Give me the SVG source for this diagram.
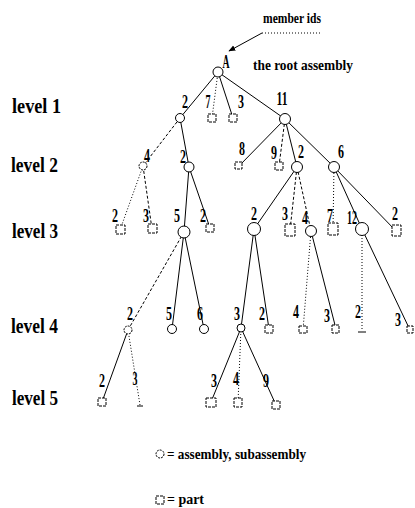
<svg xmlns="http://www.w3.org/2000/svg" width="415" height="508" viewBox="0 0 415 508">
<style>
.t{font-family:"Liberation Serif","DejaVu Serif",serif;font-weight:bold;fill:#000}
.n{font-size:18px;text-anchor:middle}
.lv{font-size:21px}
.s{font-size:15px}
.e{stroke:#000;stroke-width:1;fill:none}
.d{stroke-dasharray:3,2}
.dt{stroke-dasharray:1,2}
.c{fill:#fff;stroke:#000;stroke-width:1}
.b{fill:#fff;stroke:#000;stroke-width:1;stroke-dasharray:3,1}
</style>
<defs>
<marker id="ar" viewBox="0 0 10 10" refX="9" refY="5" markerWidth="7" markerHeight="7" orient="auto"><path d="M0,1 L10,5 L0,9 z" fill="#000"/></marker>
</defs>
<rect width="415" height="508" fill="#fff"/>

<g id="annotations">
<text class="t s" x="263" y="23" textLength="58" lengthAdjust="spacingAndGlyphs">member ids</text>
<line class="e dt" x1="262" y1="33" x2="320" y2="33"/>
<line class="e" x1="262" y1="33" x2="229" y2="51" marker-end="url(#ar)"/>
<text class="t s" x="253" y="70" textLength="100" lengthAdjust="spacingAndGlyphs">the root assembly</text>
<text class="t lv" x="12" y="113" textLength="49" lengthAdjust="spacingAndGlyphs">level 1</text>
<text class="t lv" x="11" y="172" textLength="47" lengthAdjust="spacingAndGlyphs">level 2</text>
<text class="t lv" x="12" y="238" textLength="46" lengthAdjust="spacingAndGlyphs">level 3</text>
<text class="t lv" x="11" y="333" textLength="47" lengthAdjust="spacingAndGlyphs">level 4</text>
<text class="t lv" x="12" y="405" textLength="46" lengthAdjust="spacingAndGlyphs">level 5</text>
</g>

<g id="connectors">
<line class="e" x1="218" y1="72" x2="180" y2="118"/>
<line class="e dt" x1="218" y1="72" x2="212" y2="118"/>
<line class="e" x1="218" y1="72" x2="233" y2="118"/>
<line class="e" x1="218" y1="72" x2="285" y2="119"/>
<line class="e d" x1="180" y1="118" x2="143" y2="166"/>
<line class="e" x1="180" y1="118" x2="189" y2="167"/>
<line class="e dt" x1="143" y1="166" x2="120" y2="230"/>
<line class="e d" x1="143" y1="166" x2="152" y2="229"/>
<line class="e" x1="189" y1="167" x2="184" y2="232"/>
<line class="e" x1="189" y1="167" x2="210" y2="228"/>
<line class="e" x1="285" y1="119" x2="239" y2="166"/>
<line class="e d" x1="285" y1="119" x2="279" y2="166"/>
<line class="e" x1="285" y1="119" x2="297" y2="167"/>
<line class="e" x1="285" y1="119" x2="334" y2="167"/>
<line class="e" x1="297" y1="167" x2="254" y2="229"/>
<line class="e d" x1="297" y1="167" x2="290" y2="230"/>
<line class="e d" x1="297" y1="167" x2="311" y2="231"/>
<line class="e dt" x1="334" y1="167" x2="333" y2="229"/>
<line class="e" x1="334" y1="167" x2="362" y2="229"/>
<line class="e" x1="334" y1="167" x2="396" y2="231"/>
<line class="e d" x1="184" y1="232" x2="128" y2="330"/>
<line class="e" x1="184" y1="232" x2="172" y2="329"/>
<line class="e" x1="184" y1="232" x2="204" y2="329"/>
<line class="e" x1="254" y1="229" x2="241" y2="328"/>
<line class="e" x1="254" y1="229" x2="269" y2="329"/>
<line class="e dt" x1="311" y1="231" x2="303" y2="330"/>
<line class="e" x1="311" y1="231" x2="336" y2="329"/>
<line class="e dt" x1="362" y1="229" x2="362" y2="330"/>
<line class="e" x1="362" y1="229" x2="410" y2="330"/>
<line class="e" x1="128" y1="330" x2="102" y2="402"/>
<line class="e dt" x1="128" y1="330" x2="140" y2="405"/>
<line class="e" x1="241" y1="328" x2="211" y2="402"/>
<line class="e dt" x1="241" y1="328" x2="238" y2="403"/>
<line class="e" x1="241" y1="328" x2="276" y2="405"/>
</g>

<g id="root"><circle class="c" cx="218" cy="72" r="5"/><text class="t n" x="226" y="68" textLength="7" lengthAdjust="spacingAndGlyphs">A</text></g>

<g id="l1-2"><circle class="c" cx="180" cy="118" r="4.5"/><text class="t n" x="185" y="108" textLength="6" lengthAdjust="spacingAndGlyphs">2</text></g>
<g id="l1-7"><rect class="b" x="208" y="114" width="8" height="8"/><text class="t n" x="208" y="108" textLength="5" lengthAdjust="spacingAndGlyphs">7</text></g>
<g id="l1-3"><rect class="b" x="229" y="114" width="8" height="8"/><text class="t n" x="241" y="108" textLength="6" lengthAdjust="spacingAndGlyphs">3</text></g>
<g id="l1-11"><circle class="c" cx="285" cy="119" r="5.5"/><text class="t n" x="282" y="105" textLength="11" lengthAdjust="spacingAndGlyphs">11</text></g>

<g id="l2-4"><circle class="c" cx="143" cy="166" r="4" stroke-dasharray="2,1"/><text class="t n" x="147" y="162" textLength="6" lengthAdjust="spacingAndGlyphs">4</text></g>
<g id="l2-2a"><circle class="c" cx="189" cy="167" r="5"/><text class="t n" x="183" y="163" textLength="6" lengthAdjust="spacingAndGlyphs">2</text></g>
<g id="l2-8"><rect class="b" x="235" y="162" width="7" height="7"/><text class="t n" x="242" y="155" textLength="6" lengthAdjust="spacingAndGlyphs">8</text></g>
<g id="l2-9"><rect class="b" x="275" y="162" width="8" height="8"/><text class="t n" x="274" y="159" textLength="6" lengthAdjust="spacingAndGlyphs">9</text></g>
<g id="l2-2b"><circle class="c" cx="297" cy="167" r="5.5"/><text class="t n" x="301" y="158" textLength="6" lengthAdjust="spacingAndGlyphs">2</text></g>
<g id="l2-6"><circle class="c" cx="334" cy="167" r="5.5"/><text class="t n" x="341" y="158" textLength="6" lengthAdjust="spacingAndGlyphs">6</text></g>

<g id="l3-2a"><rect class="b" x="116" y="225" width="9" height="9"/><text class="t n" x="115" y="222" textLength="6" lengthAdjust="spacingAndGlyphs">2</text></g>
<g id="l3-3a"><rect class="b" x="148" y="224" width="9" height="9"/><text class="t n" x="146" y="222" textLength="6" lengthAdjust="spacingAndGlyphs">3</text></g>
<g id="l3-5"><circle class="c" cx="184" cy="232" r="6"/><text class="t n" x="177" y="222" textLength="6" lengthAdjust="spacingAndGlyphs">5</text></g>
<g id="l3-2b"><rect class="b" x="206" y="224" width="8" height="8"/><text class="t n" x="203" y="222" textLength="6" lengthAdjust="spacingAndGlyphs">2</text></g>
<g id="l3-2c"><circle class="c" cx="254" cy="229" r="6.5"/><text class="t n" x="254" y="220" textLength="6" lengthAdjust="spacingAndGlyphs">2</text></g>
<g id="l3-3b"><rect class="b" x="285" y="224" width="10" height="12"/><text class="t n" x="285" y="220" textLength="6" lengthAdjust="spacingAndGlyphs">3</text></g>
<g id="l3-4"><circle class="c" cx="311" cy="231" r="5.5"/><text class="t n" x="305" y="224" textLength="6" lengthAdjust="spacingAndGlyphs">4</text></g>
<g id="l3-7"><rect class="b" x="328" y="223" width="10" height="12"/><text class="t n" x="330" y="222" textLength="6" lengthAdjust="spacingAndGlyphs">7</text></g>
<g id="l3-12"><circle class="c" cx="362" cy="229" r="6.5"/><text class="t n" x="352" y="224" textLength="10" lengthAdjust="spacingAndGlyphs">12</text></g>
<g id="l3-2d"><rect class="b" x="392" y="225" width="9" height="11"/><text class="t n" x="395" y="220" textLength="6" lengthAdjust="spacingAndGlyphs">2</text></g>

<g id="l4-2a"><circle class="c" cx="128" cy="330" r="4" stroke-dasharray="2,1"/><text class="t n" x="130" y="320" textLength="6" lengthAdjust="spacingAndGlyphs">2</text></g>
<g id="l4-5"><circle class="c" cx="172" cy="329" r="4.5"/><text class="t n" x="169" y="320" textLength="6" lengthAdjust="spacingAndGlyphs">5</text></g>
<g id="l4-6"><circle class="c" cx="204" cy="329" r="4.5"/><text class="t n" x="200" y="320" textLength="6" lengthAdjust="spacingAndGlyphs">6</text></g>
<g id="l4-3a"><circle class="c" cx="241" cy="328" r="4"/><text class="t n" x="237" y="320" textLength="6" lengthAdjust="spacingAndGlyphs">3</text></g>
<g id="l4-2b"><rect class="b" x="265" y="325" width="8" height="8"/><text class="t n" x="262" y="320" textLength="6" lengthAdjust="spacingAndGlyphs">2</text></g>
<g id="l4-4"><rect class="b" x="299" y="326" width="8" height="7"/><text class="t n" x="296" y="318" textLength="6" lengthAdjust="spacingAndGlyphs">4</text></g>
<g id="l4-3b"><rect class="b" x="332" y="325" width="7" height="8"/><text class="t n" x="327" y="322" textLength="6" lengthAdjust="spacingAndGlyphs">3</text></g>
<g id="l4-2c"><line class="e" x1="358" y1="332" x2="366" y2="332"/><text class="t n" x="358" y="318" textLength="6" lengthAdjust="spacingAndGlyphs">2</text></g>
<g id="l4-3c"><rect class="b" x="407" y="326" width="6" height="7"/><text class="t n" x="398" y="326" textLength="6" lengthAdjust="spacingAndGlyphs">3</text></g>

<g id="l5-2"><rect class="b" x="98" y="398" width="8" height="8"/><text class="t n" x="102" y="387" textLength="6" lengthAdjust="spacingAndGlyphs">2</text></g>
<g id="l5-3a"><line class="e" x1="137" y1="406" x2="143" y2="406"/><text class="t n" x="135" y="385" textLength="5" lengthAdjust="spacingAndGlyphs">3</text></g>
<g id="l5-3b"><rect class="b" x="206" y="398" width="10" height="9"/><text class="t n" x="214" y="387" textLength="6" lengthAdjust="spacingAndGlyphs">3</text></g>
<g id="l5-4"><rect class="b" x="234" y="398" width="8" height="9"/><text class="t n" x="236" y="385" textLength="6" lengthAdjust="spacingAndGlyphs">4</text></g>
<g id="l5-9"><rect class="b" x="272" y="401" width="8" height="8"/><text class="t n" x="266" y="387" textLength="6" lengthAdjust="spacingAndGlyphs">9</text></g>

<g id="legend">
<circle class="c" cx="160" cy="454" r="4" stroke-dasharray="2,1"/>
<text class="t s" x="167" y="459" textLength="139" lengthAdjust="spacingAndGlyphs">= assembly, subassembly</text>
<rect class="b" x="156" y="496" width="8" height="8"/>
<text class="t s" x="167" y="504" textLength="37" lengthAdjust="spacingAndGlyphs">= part</text>
</g>
</svg>
